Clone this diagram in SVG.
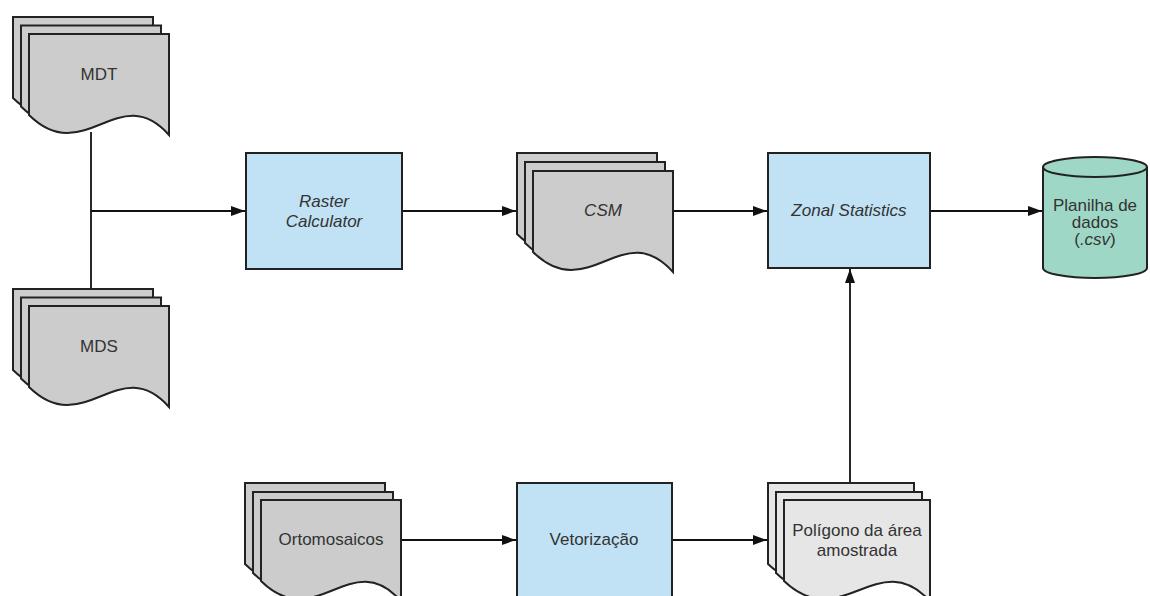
<svg xmlns="http://www.w3.org/2000/svg" xmlns:xlink="http://www.w3.org/1999/xlink" width="1150" height="596" viewBox="0 0 1150 596">
<style>
.pg{fill:#cccccc;stroke:#222;stroke-width:2}
.pgl{fill:#e6e6e6;stroke:#222;stroke-width:2}
.proc{fill:#c1e2f4;stroke:#222;stroke-width:2}
.db{fill:#9fd7c7;stroke:#222;stroke-width:2}
.t{font-family:"Liberation Sans",Arial,sans-serif;font-size:17px;fill:#333;text-anchor:middle;dominant-baseline:central}
.i{font-style:italic}
.c{fill:none;stroke:#111;stroke-width:1.8}
</style>
<defs>
<path id="doc" d="M0,0 H140 V101 C90,45 55,135 0,81 Z"/>
<path id="docw" d="M0,0 H146 V101 C94,45 57,135 0,81 Z"/>
<marker id="ah" markerUnits="userSpaceOnUse" markerWidth="16" markerHeight="12" refX="14" refY="5" orient="auto">
<path d="M0,0 L14,5 L0,10 Z" fill="#111"/>
</marker>
</defs>
<rect width="1150" height="596" fill="#fff"/>
<g id="connectors">
<line class="c" x1="91" y1="132" x2="91" y2="289"/>
<line class="c" x1="91" y1="211" x2="245" y2="211" marker-end="url(#ah)"/>
<line class="c" x1="402" y1="211" x2="516" y2="211" marker-end="url(#ah)"/>
<line class="c" x1="673" y1="211" x2="767" y2="211" marker-end="url(#ah)"/>
<line class="c" x1="930" y1="211" x2="1042" y2="211" marker-end="url(#ah)"/>
<line class="c" x1="850" y1="483" x2="850" y2="269" marker-end="url(#ah)"/>
<line class="c" x1="401" y1="540" x2="516" y2="540" marker-end="url(#ah)"/>
<line class="c" x1="672" y1="540" x2="767" y2="540" marker-end="url(#ah)"/>
</g>
<g id="mdt">
<use href="#doc" class="pg" x="13" y="17"/>
<use href="#doc" class="pg" x="21" y="25.5"/>
<use href="#doc" class="pg" x="29" y="34"/>
<text class="t" x="99" y="74">MDT</text>
</g>
<g id="mds">
<use href="#doc" class="pg" x="13" y="289"/>
<use href="#doc" class="pg" x="21" y="297.5"/>
<use href="#doc" class="pg" x="29" y="306"/>
<text class="t" x="99" y="346">MDS</text>
</g>
<g id="raster">
<rect class="proc" x="246" y="153" width="156" height="116"/>
<text class="t i" x="324" y="201">Raster</text>
<text class="t i" x="324" y="221">Calculator</text>
</g>
<g id="csm">
<use href="#doc" class="pg" x="517" y="153"/>
<use href="#doc" class="pg" x="525" y="162"/>
<use href="#doc" class="pg" x="533" y="171"/>
<text class="t i" x="603" y="210">CSM</text>
</g>
<g id="zonal">
<rect class="proc" x="768" y="153" width="162" height="115"/>
<text class="t i" x="849" y="210">Zonal Statistics</text>
</g>
<g id="planilha">
<path class="db" d="M1043,167 V268 A52,10 0 0 0 1147,268 V167"/>
<ellipse class="db" cx="1095" cy="167" rx="52" ry="10"/>
<text class="t" x="1095" y="205">Planilha de</text>
<text class="t" x="1095" y="222">dados</text>
<text class="t" x="1095" y="239">(<tspan class="i">.csv</tspan>)</text>
</g>
<g id="ortomosaicos">
<use href="#doc" class="pg" x="245" y="483"/>
<use href="#doc" class="pg" x="253" y="492"/>
<use href="#doc" class="pg" x="261" y="500"/>
<text class="t" x="331" y="539">Ortomosaicos</text>
</g>
<g id="vetorizacao">
<rect class="proc" x="517" y="483" width="155" height="130"/>
<text class="t" x="594" y="539">Vetorização</text>
</g>
<g id="poligono">
<use href="#docw" class="pgl" x="768" y="483"/>
<use href="#docw" class="pgl" x="776" y="492"/>
<use href="#docw" class="pgl" x="784" y="500"/>
<text class="t" x="857" y="530">Polígono da área</text>
<text class="t" x="857" y="550">amostrada</text>
</g>
</svg>
